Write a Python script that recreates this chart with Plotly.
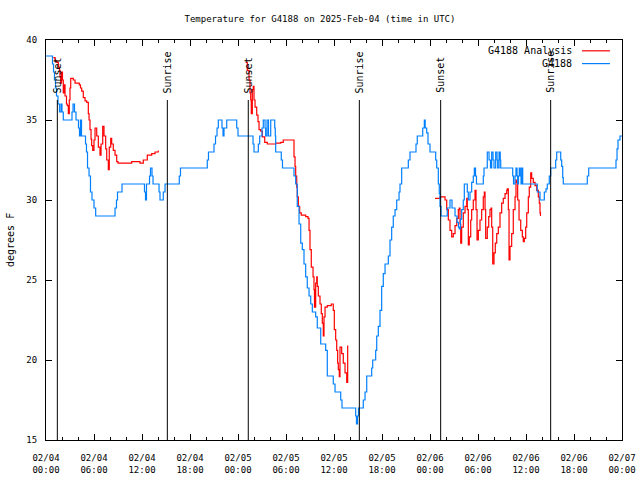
import plotly.graph_objects as go
import pandas as pd

BASE = pd.Timestamp("2025-02-04 00:00")

# Observations (hours since 02/04 00:00 UTC, degrees F)
obs_hours = [0, 0.81, 0.94, 1.06, 1.19, 1.31, 1.5, 1.69, 1.88, 2.0, 2.16, 3.25, 3.38, 3.56, 3.75,
             4.06, 4.19, 4.31, 4.44, 4.94, 5.06, 5.19, 5.38, 5.56, 5.75, 6.0, 6.21, 8.63, 8.81, 8.94,
             9.31, 9.5, 12.16, 12.31, 12.44, 12.56, 12.94, 13.06, 13.25, 13.38, 14.13, 14.25, 14.66,
             14.88, 16.66, 16.81, 20.16, 20.31, 21.0, 21.19, 21.38, 21.54, 22.0, 22.13, 22.25, 22.59,
             23.84, 24.0, 25.88, 26.0, 26.54, 26.71, 27.0, 27.16, 27.38, 27.46, 27.63, 27.81, 28.09,
             28.59, 28.66, 28.71, 29.41, 29.56, 31.0, 31.21, 31.41, 31.63, 31.84, 32.04, 32.25, 32.46,
             32.66, 32.88, 33.09, 33.29, 33.71, 33.91, 34.34, 34.96, 35.16, 35.91, 36.13, 36.84, 37.0,
             38.71, 38.81, 38.94, 39.06, 39.66, 39.88, 40.09, 40.71, 40.84, 41.21, 41.34, 41.54, 41.75,
             41.96, 42.16, 42.38, 42.79, 43.0, 43.21, 43.41, 43.63, 43.84, 44.13, 44.25, 44.46, 45.29,
             45.5, 46.25, 46.41, 47.09, 47.29, 47.4, 47.59, 47.75, 48.0, 48.71, 48.84, 49.04, 49.16,
             49.25, 49.38, 50.16, 50.5, 50.75, 51.13, 51.38, 51.56, 51.66, 51.81, 51.96, 52.16, 52.29,
             52.66, 52.79, 53.0, 53.21, 53.41, 53.54, 53.69, 53.81, 54.66, 54.75, 55.16, 55.38, 55.56,
             55.71, 55.88, 56.0, 56.21, 56.38, 56.46, 56.63, 56.78, 56.84, 58.34, 58.44, 58.63, 58.75,
             58.88, 58.96, 59.06, 59.16, 59.29, 59.38, 59.46, 59.59, 61.41, 61.75, 62.29, 62.5, 62.66,
             62.91, 63.09, 63.71, 63.84, 64.34, 64.46, 64.59, 64.66, 67.66, 67.84, 71.25, 71.38, 71.5,
             71.75, 72.0]
obs_temps = [39, 38.5, 38, 37.5, 37, 36.5, 36, 35.5, 36, 35.5, 35, 35.5, 36, 35.5, 35,
             34.5, 34, 35, 34, 33.5, 33, 32, 31.5, 30.5, 30, 29.5, 29, 29.5, 30, 30.5,
             30.5, 31, 31, 30.5, 30, 31, 31.5, 32, 31.5, 31, 30.5, 30, 30.5,
             31, 31.5, 32, 32.5, 33, 33.5, 34, 34.5, 35, 34.5, 34, 34.5, 35,
             34.5, 34, 33.5, 33, 33.5, 34, 34.5, 35, 34.5, 34, 35, 34, 35,
             34.5, 34, 33, 32.5, 32, 31.5, 31, 29.6, 28.5, 27.3, 26.9, 26, 25.2,
             24.5, 24, 23.5, 23, 22.7, 22, 21, 20.6, 19, 18.5, 18, 17.5, 17,
             16.5, 16, 16.5, 17, 17.5, 18, 19, 19.5, 20, 20.6, 21.5, 22.1, 23.1,
             24.6, 25.4, 26, 26.5, 27.5, 28.3, 29, 29.4, 30, 30.5, 31, 32, 32.5,
             33, 33.5, 34, 34.5, 35, 34.5, 34.2, 33.5, 33, 32.5, 32, 31, 30.4,
             29.6, 29, 29.5, 30, 29.5, 29, 28.6, 28.3, 28.2, 28.8, 29.4, 30, 31,
             30.5, 30, 30.5, 31.1, 31.5, 32, 31.5, 31, 31.5, 32, 33, 32.5, 32,
             33, 32.5, 32, 33, 32.5, 32, 33, 32.5, 32, 31.5, 31, 31.5, 32,
             31.5, 31, 31.5, 32, 31.5, 31, 32, 31, 30.5, 30, 30.5, 30.7, 31,
             31.5, 32, 32.5, 33, 32.5, 32.1, 31.4, 31, 31.5, 32, 32.5, 33.2, 33.75,
             34, 34]

# Analysis runs (hours since 02/04 00:00 UTC, degrees F); None separates runs
ana_hours = [0.91, 1.13, 1.34, 1.54, 1.69, 1.75, 1.84, 1.94, 2.06, 2.16, 2.25, 2.38, 2.56, 2.66,
             2.79, 2.91, 3.0, 3.09, 3.41, 3.63, 4.16, 4.31, 4.46, 4.66, 4.88, 5.09, 5.29, 5.38, 5.5,
             5.63, 5.71, 5.84, 6.0, 6.13, 6.34, 6.54, 6.75, 6.88, 7.09, 7.25, 7.46, 7.59, 7.79, 7.91,
             8.09, 8.21, 8.41, 8.63, 8.84, 9.0, 10.16, 10.71, 11.13, 11.75, 12.16, 12.66, 13.21, 13.63,
             14.04, 14.1, None,
             24.96, 25.16, 25.38, 25.5, 25.59, 25.66, 25.79, 25.91, 26.0, 26.13, 26.34, 26.5, 26.63,
             26.84, 27.04, 27.34, 27.66, 28.71, 29.34, 29.66, 30.79, 31.0, 31.13, 31.21, 31.34, 31.41,
             31.54, 31.71, 31.91, 32.46, 32.75, 32.88, 33.0, 33.16, 33.38, 33.5, 33.56, 33.71, 33.84,
             33.91, 34.04, 34.25, 34.41, 34.54, 34.66, 34.75, 34.88, 35.16, 35.66, 35.91, 36.04, 36.21,
             36.34, 36.46, 36.54, 36.66, 36.75, 36.96, 37.16, 37.38, 37.59, 37.71, None,
             48.63, 49.25, 49.88, 50.09, 50.29, 50.5, 50.71, 50.91, 51.13, 51.34, 51.54, 51.66, 51.75,
             51.84, 51.96, 52.16, 52.38, 52.59, 52.66, 52.79, 52.91, 53.09, 53.21, 53.41, 53.63, 53.75,
             53.88, 54.04, 54.25, 54.46, 54.66, 54.79, 54.88, 54.96, 55.16, 55.34, 55.5, 55.63, 55.71,
             55.84, 56.0, 56.16, 56.34, 56.54, 56.75, 56.96, 57.16, 57.38, 57.59, 57.66, 57.79, 57.88,
             58.0, 58.21, 58.41, 58.63, 58.75, 58.84, 58.96, 59.13, 59.34, 59.54, 59.66, 59.79, 59.96,
             60.09, 60.29, 60.41, 60.59, 60.71, 60.91, 61.13, 61.34, 61.54, 61.66, 61.75, 61.81]
ana_temps = [38.9, 38.7, 38.6, 38.3, 38.1, 37.7, 37.3, 38.0, 37.5, 36.7, 37.2, 36.5, 36.0, 35.9,
             35.4, 36.25, 37.0, 37.6, 37.5, 37.3, 37.2, 37.0, 36.8, 36.4, 36.2, 36.1, 35.4, 35.0, 34.4,
             33.8, 33.4, 33.1, 33.75, 34.5, 34.0, 33.3, 32.8, 33.5, 34.6, 34.0, 33.2, 32.5, 31.9, 33.3,
             33.85, 33.5, 33.1, 32.8, 32.4, 32.3, 32.3, 32.4, 32.4, 32.3, 32.5, 32.8, 32.9, 33.0,
             33.06, 33.06, None,
             38.6, 38.1, 37.5, 36.7, 36.25, 35.4, 36.9, 37.1, 36.25, 35.8, 35.3, 34.9, 34.4,
             34.3, 33.95, 33.6, 33.5, 33.55, 33.6, 33.75, 33.75, 32.7, 32.1, 31.5, 30.8, 30.2,
             29.6, 29.2, 29.06, 28.96, 28.85, 28.1, 26.9, 25.8, 25.2, 24.4, 23.3, 24.8, 25.2,
             24.6, 24.0, 23.5, 22.9, 22.3, 21.5, 22.7, 23.3, 23.4, 23.5, 23.1, 21.9, 21.25,
             20.6, 19.8, 19.4, 18.96, 20.8, 20.4, 19.8, 19.2, 18.6, 20.9, None,
             30.1, 30.2, 30.0, 29.4, 28.75, 28.1, 27.7, 27.9, 28.4, 28.85, 29.4, 29.5, 28.5,
             27.3, 28.3, 29.2, 29.6, 30.1, 29.4, 27.2, 27.7, 28.75, 29.4, 30.0, 30.6, 29.4,
             27.5, 28.1, 28.75, 29.4, 30.2, 30.5, 29.4, 27.6, 28.3, 28.96, 29.4, 29.5, 28.3,
             26.0, 26.7, 27.3, 27.9, 28.3, 29.2, 29.8, 30.1, 30.4, 30.6, 30.7, 29.4, 26.25,
             27.1, 27.9, 29.4, 30.2, 31.25, 31.1, 30.0, 28.75, 28.1, 27.7, 27.4, 27.6, 28.3,
             29.2, 30.2, 30.8, 31.7, 31.35, 31.1, 30.9, 30.6, 30.2, 29.8, 29.2, 29.0]

sunset_times = ["2025-02-04 01:25", "2025-02-05 01:17", "2025-02-06 01:20"]
sunrise_times = ["2025-02-04 15:10", "2025-02-05 15:10", "2025-02-06 15:05"]

tick_hours = list(range(0, 73, 6))
tick_labels = ["02/04<br>00:00", "02/04<br>06:00", "02/04<br>12:00", "02/04<br>18:00",
               "02/05<br>00:00", "02/05<br>06:00", "02/05<br>12:00", "02/05<br>18:00",
               "02/06<br>00:00", "02/06<br>06:00", "02/06<br>12:00", "02/06<br>18:00",
               "02/07<br>00:00"]
minor_hours = list(range(0, 73, 2))
y_ticks = [15, 20, 25, 30, 35, 40]

series_names = ["G4188 Analysis", "G4188"]
series_colors = ["#ff0000", "#0080ff"]


def to_time(hours):
    return [None if h is None else BASE + pd.Timedelta(hours=h) for h in hours]


FONT = "DejaVu Sans Mono"
fig = go.Figure()

# event lines
for ts in sunset_times + sunrise_times:
    fig.add_shape(type="line", xref="x", yref="y", x0=ts, x1=ts, y0=15, y1=36.25,
                  line=dict(color="black", width=1))
for ts in sunset_times:
    fig.add_annotation(x=ts, y=36.55, xref="x", yref="y", text="Sunset", textangle=-90,
                       showarrow=False, xanchor="center", yanchor="bottom",
                       font=dict(family=FONT, size=10, color="black"))
for ts in sunrise_times:
    fig.add_annotation(x=ts, y=36.55, xref="x", yref="y", text="Sunrise", textangle=-90,
                       showarrow=False, xanchor="center", yanchor="bottom",
                       font=dict(family=FONT, size=10, color="black"))

fig.add_trace(go.Scatter(x=to_time(ana_hours), y=ana_temps, mode="lines", name=series_names[0],
                         line=dict(color=series_colors[0], width=1.2, shape="hv"),
                         connectgaps=False, showlegend=False, hoverinfo="skip"))
fig.add_trace(go.Scatter(x=to_time(obs_hours), y=obs_temps, mode="lines", name=series_names[1],
                         line=dict(color=series_colors[1], width=1.2, shape="hv"),
                         showlegend=False, hoverinfo="skip"))

# gnuplot-style key (text then sample line), top right
key_rows_y = [0.973, 0.941]
for name, color, ky in zip(series_names, series_colors, key_rows_y):
    fig.add_annotation(x=0.9167, y=ky, xref="paper", yref="paper", text=name, showarrow=False,
                       xanchor="right", yanchor="middle",
                       font=dict(family=FONT, size=10, color="black"))
    fig.add_shape(type="line", xref="paper", yref="paper", x0=0.9306, x1=0.979, y0=ky, y1=ky,
                  line=dict(color=color, width=1.2))

fig.add_annotation(x=-0.0625, y=0.5, xref="paper", yref="paper", text="degrees F",
                   textangle=-90, showarrow=False, xanchor="center", yanchor="middle",
                   font=dict(family=FONT, size=10, color="black"))

fig.update_layout(
    width=640, height=480,
    margin=dict(l=46, r=18, t=40, b=40, autoexpand=False),
    paper_bgcolor="white", plot_bgcolor="white",
    font=dict(family=FONT, size=9, color="black"),
    title=dict(text="Temperature for G4188 on 2025-Feb-04 (time in UTC)", x=0.5, xref="container",
               y=1 - 19 / 480, yref="container", xanchor="center", yanchor="middle",
               font=dict(family=FONT, size=9, color="black")),
    showlegend=False,
)
fig.update_xaxes(
    type="date", range=[BASE, BASE + pd.Timedelta(hours=72)], automargin=False,
    tickmode="array", tickvals=to_time(tick_hours), ticktext=tick_labels, ticklabelstandoff=9,
    ticks="inside", ticklen=6, tickcolor="black", tickwidth=1,
    minor=dict(tickmode="array", tickvals=to_time(minor_hours), ticks="inside", ticklen=3,
               tickcolor="black", tickwidth=1, showgrid=False),
    showline=True, linecolor="black", linewidth=1, mirror="allticks",
    showgrid=False, zeroline=False, tickfont=dict(family=FONT, size=9, color="black"),
)
fig.update_yaxes(
    range=[15, 40], tickmode="array", tickvals=y_ticks, ticktext=[str(v) for v in y_ticks],
    automargin=False, ticklabelstandoff=6,
    ticks="inside", ticklen=6, tickcolor="black", tickwidth=1,
    showline=True, linecolor="black", linewidth=1, mirror="allticks",
    showgrid=False, zeroline=False, tickfont=dict(family=FONT, size=9, color="black"),
)

fig.write_html("out.html", config={"displayModeBar": False},
               post_script="document.body.style.margin='0';document.body.style.overflow='hidden';")
